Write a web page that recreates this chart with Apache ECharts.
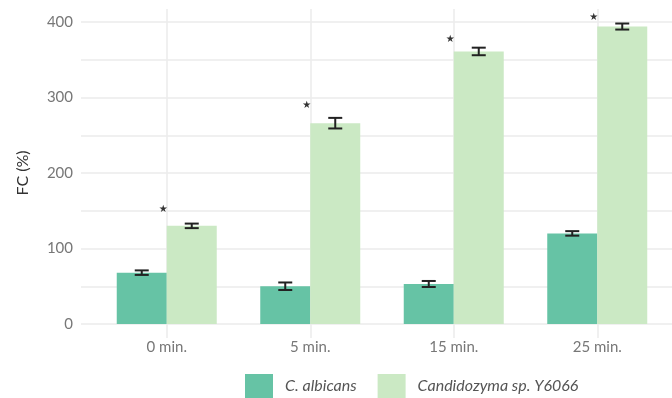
<!DOCTYPE html>
<html>
<head>
<meta charset="utf-8">
<script src="https://cdn.jsdelivr.net/npm/echarts@6/dist/echarts.min.js"></script>
<style>
  html, body { margin: 0; padding: 0; background: #fff; }
  #chart { width: 672px; height: 398px; }
</style>
</head>
<body>
<div id="chart"></div>
<script>
// Fluorescence change over time for two yeast strains
const categories = ['0 min.', '5 min.', '15 min.', '25 min.'];
const seriesNames = ['C. albicans', 'Candidozyma sp. Y6066'];
const albicansValues = [68, 50, 53, 120];
const albicansErrors = [3, 5, 4, 3];
const candidozymaValues = [130, 266, 361, 394];
const candidozymaErrors = [3, 7, 5, 4];
// heights at which the significance stars sit
const starValues = [152, 290, 377, 406];
const yTicks = [0, 100, 200, 300, 400];

const FONT = 'Lato, "Open Sans", sans-serif';
const DARK = '#66c3a5';
const LIGHT = '#cbe9c4';
const GRID = '#ebebeb';
const BAR_W = 50;

function errorSeries(values, errors, shift) {
  return {
    type: 'custom',
    xAxisIndex: 1,
    yAxisIndex: 1,
    z: 5,
    data: values.map((v, i) => [i, v - errors[i], v + errors[i]]),
    renderItem: function (params, api) {
      const lo = api.coord([api.value(0), api.value(1)]);
      const hi = api.coord([api.value(0), api.value(2)]);
      const x = lo[0] + shift;
      const cap = 7;
      const style = { stroke: '#222', lineWidth: 2 };
      return {
        type: 'group',
        children: [
          { type: 'line', shape: { x1: x, y1: lo[1], x2: x, y2: hi[1] }, style },
          { type: 'line', shape: { x1: x - cap, y1: lo[1], x2: x + cap, y2: lo[1] }, style },
          { type: 'line', shape: { x1: x - cap, y1: hi[1], x2: x + cap, y2: hi[1] }, style }
        ]
      };
    }
  };
}

const chart = echarts.init(document.getElementById('chart'), null, { renderer: 'canvas' });

chart.setOption({
  animation: false,
  textStyle: { fontFamily: FONT },
  grid: [
    { left: 81, right: 0, top: 22, bottom: 74 },
    { left: 95, right: 3, top: 22, bottom: 74 }
  ],
  legend: {
    data: seriesNames,
    left: 240,
    top: 369,
    icon: 'rect',
    itemWidth: 28,
    itemHeight: 24,
    itemGap: 21,
    textStyle: { fontFamily: FONT, fontStyle: 'italic', fontSize: 16, color: '#555',
                 padding: [0, 0, 0, 7] }
  },
  xAxis: [
    { type: 'value', gridIndex: 0, show: false, min: 0, max: 1 },
    {
      type: 'category', gridIndex: 1, data: categories,
      axisLine: { show: false }, axisTick: { show: false },
      axisLabel: { color: '#777', fontSize: 15, margin: 16, fontFamily: FONT }
    },
    {
      type: 'category', gridIndex: 1, data: categories, position: 'top', offset: 13,
      axisLine: { show: false }, axisLabel: { show: false },
      axisTick: { show: true, alignWithLabel: true, inside: true, length: 329,
                  lineStyle: { color: GRID, width: 1.5 } }
    }
  ],
  yAxis: [
    {
      type: 'value', gridIndex: 0, min: 0, max: 400, interval: 50,
      name: 'FC (%)', nameLocation: 'middle', nameGap: 50, nameRotate: 90,
      nameTextStyle: { color: '#333', fontSize: 16, fontFamily: FONT },
      axisLine: { show: false }, axisTick: { show: false },
      axisLabel: {
        color: '#777', fontSize: 15, margin: 8, fontFamily: FONT,
        formatter: v => (yTicks.indexOf(v) >= 0 ? String(v) : '')
      },
      splitLine: { lineStyle: { color: GRID, width: 1.5 } }
    },
    { type: 'value', gridIndex: 1, min: 0, max: 400, show: false }
  ],
  series: [
    {
      name: seriesNames[0], type: 'bar', xAxisIndex: 1, yAxisIndex: 1,
      data: albicansValues, barWidth: BAR_W, barGap: '0%',
      itemStyle: { color: DARK }
    },
    {
      name: seriesNames[1], type: 'bar', xAxisIndex: 1, yAxisIndex: 1,
      data: candidozymaValues, barWidth: BAR_W, barGap: '0%',
      itemStyle: { color: LIGHT }
    },
    errorSeries(albicansValues, albicansErrors, -BAR_W / 2),
    errorSeries(candidozymaValues, candidozymaErrors, BAR_W / 2),
    {
      type: 'custom', xAxisIndex: 1, yAxisIndex: 1, z: 6,
      data: starValues.map((v, i) => [i, v]),
      renderItem: function (params, api) {
        const p = api.coord([api.value(0), api.value(1)]);
        return {
          type: 'text',
          x: p[0] - 3.5,
          y: p[1],
          style: {
            text: '★', fill: '#333', fontSize: 10,
            fontFamily: '"DejaVu Sans"', align: 'center', verticalAlign: 'middle'
          }
        };
      }
    }
  ]
});
</script>
</body>
</html>
